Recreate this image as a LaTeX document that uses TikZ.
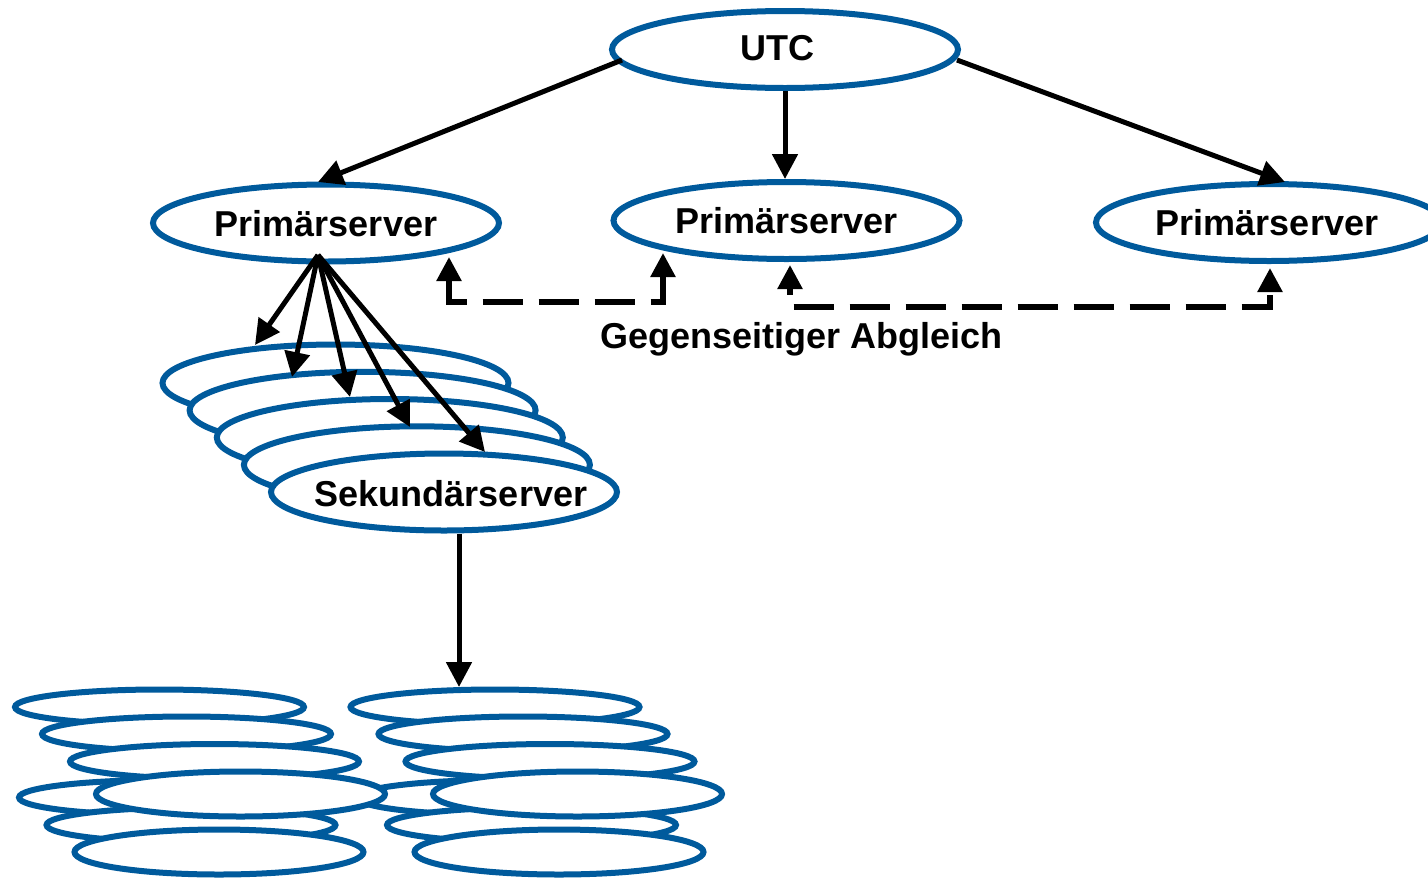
\documentclass[tikz,border=0pt]{standalone}
\usepackage{fontspec}
\setmainfont{Liberation Sans}
\usetikzlibrary{arrows.meta,calc,shapes.geometric}
\definecolor{srvblue}{RGB}{0,90,156}
\begin{document}
\begin{tikzpicture}[x=1pt,y=-1pt,
  srv/.style={ellipse, draw=srvblue, line width=6pt, fill=white, inner sep=0pt, minimum width=346pt, minimum height=77pt},
  bsmall/.style={ellipse, draw=srvblue, line width=6pt, fill=white, inner sep=0pt, minimum width=289pt, minimum height=35pt},
  bbig/.style={bsmall, minimum height=45pt},
  lbl/.style={font=\fontsize{36}{43}\selectfont\bfseries, inner sep=0pt, anchor=base},
  arr/.style={line width=5pt, -{Triangle[length=25pt,width=25pt]}},
  dsh/.style={line width=5.5pt, dash pattern=on 40pt off 16pt, {Triangle[length=24pt,width=24pt]}-{Triangle[length=24pt,width=24pt]}},
]
\useasboundingbox (0,0) rectangle (1428,879);

% top level
\node[srv] (utc) at (785,49.5) {};
\node[lbl] (tutc) at (777.5,60) {UTC};
\node[srv] (p1) at (326,223) {};
\node[lbl] (tp1) at (326,236) {Primärserver};
\node[srv] (p2) at (786.5,220.5) {};
\node[lbl] (tp2) at (786.5,233) {Primärserver};
\node[srv] (p3) at (1269,222.5) {};
\node[lbl] (tp3) at (1267,235) {Primärserver};

% secondary stack
\node[srv] (s1) at (335.5,383) {};
\node[srv] (s2) at (362.6,410.3) {};
\node[srv] (s3) at (389.8,437.5) {};
\node[srv] (s4) at (416.9,464.8) {};
\node[srv] (s5) at (444,492) {};
\node[lbl] (ts) at (451,506.7) {Sekundärserver};

% bottom stacks (back ones first)
\node[bsmall] (l1) at (159.5,707) {};
\node[bsmall] (l2) at (186.5,734) {};
\node[bsmall] (l3) at (214.5,761.5) {};
\node[bsmall] (l4) at (163.5,797.5) {};
\node[bsmall] (l6) at (191,825) {};
\node[bbig]   (l7) at (219,852) {};
\node[bsmall] (r1) at (495,707) {};
\node[bsmall] (r2) at (523,734) {};
\node[bsmall] (r3) at (550,761.5) {};
\node[bsmall] (r4) at (501.5,797.5) {};
\node[bsmall] (r6) at (531.5,825) {};
\node[bbig]   (r7) at (559,852) {};
\node[bbig]   (l5) at (240.5,794) {};
\node[bbig]   (r5) at (577.5,794) {};

% UTC to primary servers
\draw[arr] ($(utc.center)+(-163,10.5)$) -- ($(p1.center)+(-8,-41)$);
\draw[arr] (utc.south) -- (utc.south |- p2.north);
\draw[arr] ($(utc.center)+(172,10.5)$) -- ($(p3.center)+(16,-40.5)$);

% fan from primary to secondary
\coordinate (fan) at ($(p1.center)+(-8,32)$);
\draw[arr] (fan) -- ($(s1.center)+(-80.5,-38)$);
\draw[arr] (fan) -- ($(s2.center)+(-70.6,-33.3)$);
\draw[arr] (fan) -- ($(s3.center)+(-39.8,-40.5)$);
\draw[arr] (fan) -- ($(s4.center)+(-6.9,-37.8)$);
\draw[arr] (fan) -- ($(s5.center)+(41,-40)$);

% secondary to bottom
\draw[arr] ($(s5.center)+(15,41.5)$) -- ($(r1.center)+(-36,-20)$);

% mutual synchronisation
\draw[dsh] ($(p1.center)+(123,34)$) -- ++(0,45) -| ($(p2.center)+(-123.5,32.5)$);
\draw[dsh, dash phase=33pt] ($(p2.center)+(3.5,44.5)$) -- ++(0,42) -| ($(p3.center)+(1,45.5)$);
\node[lbl] (abg) at (801.5,348) {Gegenseitiger Abgleich};
\end{tikzpicture}
\end{document}
